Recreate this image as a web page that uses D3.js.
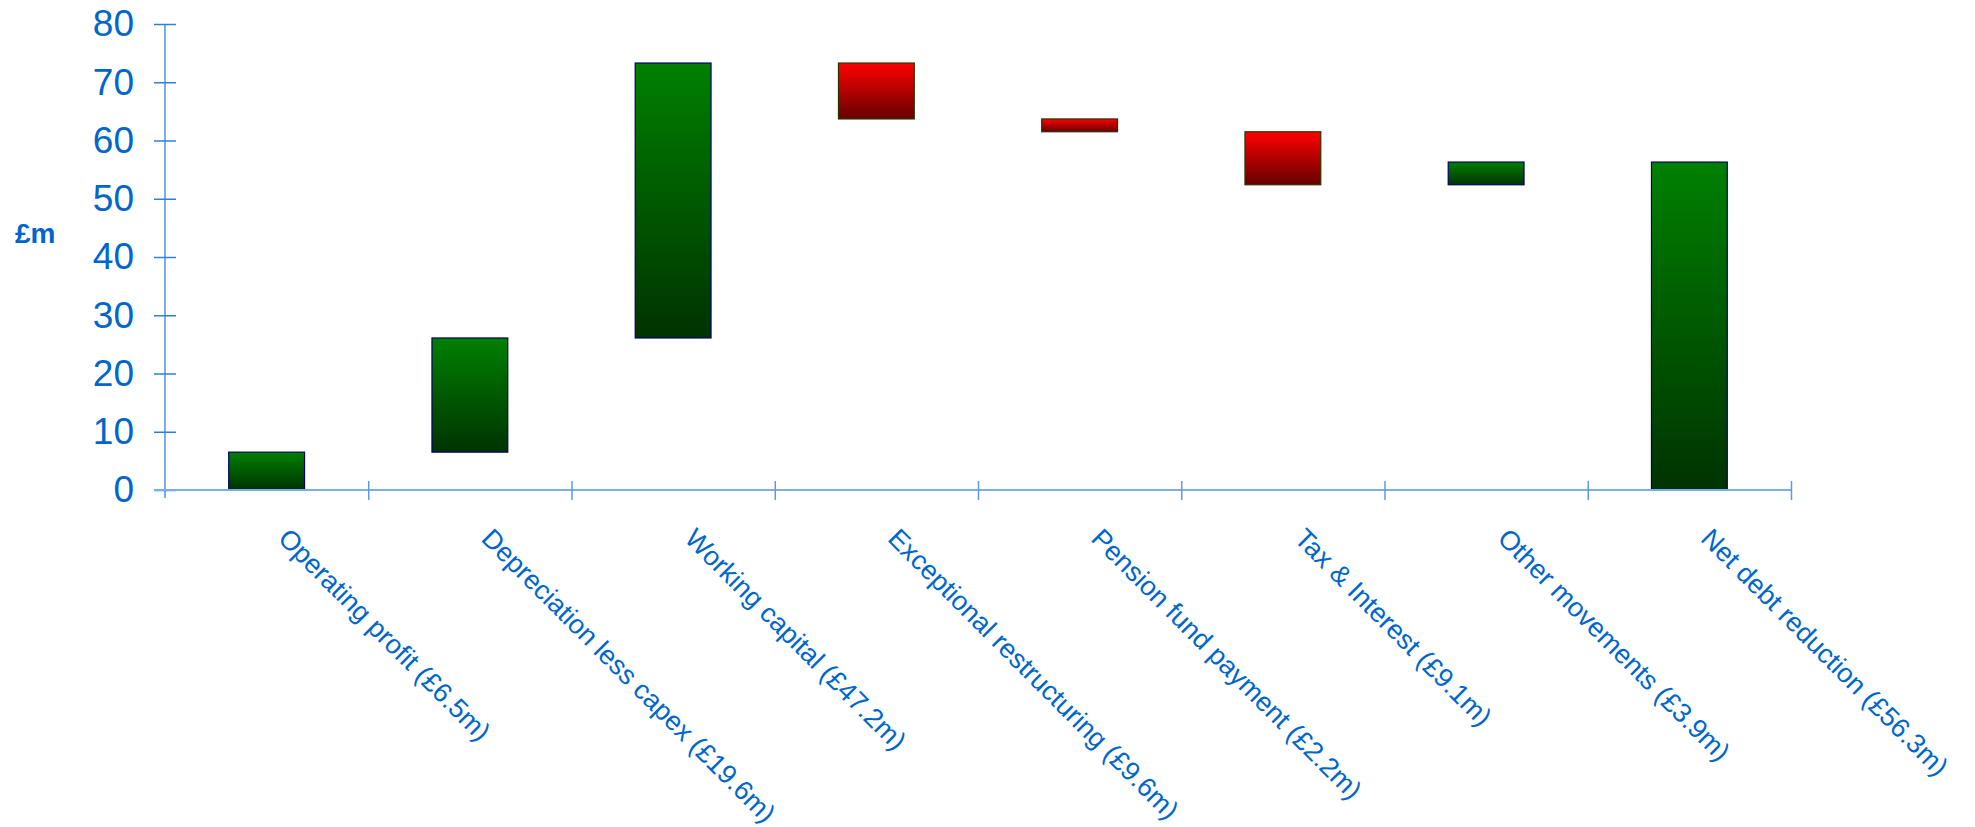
<!DOCTYPE html>
<html>
<head>
<meta charset="utf-8">
<script src="https://cdn.jsdelivr.net/npm/d3@7"></script>
<style>
  body { margin: 0; background: #fff; }
  svg text { font-family: "Liberation Sans", Arial, sans-serif; fill: #0066cc; }
</style>
</head>
<body>
<svg id="chart"></svg>
<script>
// ── data ──────────────────────────────────────────
const categories = [
  'Operating profit (£6.5m)',
  'Depreciation less capex (£19.6m)',
  'Working capital (£47.2m)',
  'Exceptional restructuring (£9.6m)',
  'Pension fund payment (£2.2m)',
  'Tax & Interest (£9.1m)',
  'Other movements (£3.9m)',
  'Net debt reduction (£56.3m)'
];
const changes = [6.5, 19.6, 47.2, -9.6, -2.2, -9.1, 3.9, 56.3];
const isTotal = [false, false, false, false, false, false, false, true];
const yTicks = [0, 10, 20, 30, 40, 50, 60, 70, 80];

const W = 1975, H = 827;
const mLeft = 165, mRight = 1791, mTop = 24, mBottom = 490;

const svg = d3.select('#chart').attr('width', W).attr('height', H);

// running totals -> floating bars
let run = 0;
const bars = categories.map((c, i) => {
  let y0, y1;
  if (isTotal[i]) { y0 = 0; y1 = changes[i]; run = changes[i]; }
  else { y0 = run; y1 = run + changes[i]; run = y1; }
  return { cat: c, y0, y1, up: changes[i] >= 0 };
});

const x = d3.scaleBand().domain(categories).range([mLeft, mRight]).padding(0);
const y = d3.scaleLinear().domain([0, 80]).range([mBottom, mTop]);
const barW = x.bandwidth() * 0.373;

const defs = svg.append('defs');
const gGreen = defs.append('linearGradient').attr('id', 'gGreen')
  .attr('x1', 0).attr('y1', 0).attr('x2', 0).attr('y2', 1);
gGreen.append('stop').attr('offset', '0%').attr('stop-color', '#008000');
gGreen.append('stop').attr('offset', '100%').attr('stop-color', '#003300');
const gRed = defs.append('linearGradient').attr('id', 'gRed')
  .attr('x1', 0).attr('y1', 0).attr('x2', 0).attr('y2', 1);
gRed.append('stop').attr('offset', '0%').attr('stop-color', '#ff0000');
gRed.append('stop').attr('offset', '100%').attr('stop-color', '#660000');

// bars
svg.append('g').selectAll('rect').data(bars).join('rect')
  .attr('x', d => x(d.cat) + (x.bandwidth() - barW) / 2)
  .attr('y', d => y(Math.max(d.y0, d.y1)))
  .attr('width', barW)
  .attr('height', d => Math.abs(y(d.y0) - y(d.y1)))
  .attr('fill', d => d.up ? 'url(#gGreen)' : 'url(#gRed)')
  .attr('stroke', d => d.up ? '#000066' : '#2b3300')
  .attr('stroke-width', 1.2);

// y axis
const yAxis = svg.append('g').attr('transform', `translate(${mLeft},0)`)
  .call(d3.axisLeft(y).tickValues(yTicks).tickSize(11).tickPadding(20));
yAxis.select('.domain').attr('stroke', '#7aaee6').attr('stroke-width', 2)
  .attr('d', `M0,${mTop}V${mBottom + 8}`);
yAxis.selectAll('.tick line').attr('x1', -11).attr('x2', 11)
  .attr('stroke', '#2f7fd8').attr('stroke-width', 1.5);
yAxis.selectAll('.tick text').style('font-size', '37px').attr('fill', '#0066cc');

// x axis: ticks on category boundaries
const xb = d3.scaleLinear().domain([0, categories.length]).range([mLeft, mRight]);
const xAxis = svg.append('g').attr('transform', `translate(0,${mBottom})`)
  .call(d3.axisBottom(xb).ticks(categories.length).tickSize(10).tickFormat(''));
xAxis.select('.domain').attr('stroke', '#7aaee6').attr('stroke-width', 2)
  .attr('d', `M${mLeft - 11},0H${mRight}`);
xAxis.selectAll('.tick line').attr('y1', -9).attr('y2', 10)
  .attr('stroke', '#5c9ae0').attr('stroke-width', 1.5);
xAxis.selectAll('.tick').filter(d => d === 0).remove();

// rotated category labels
svg.append('g').selectAll('text').data(categories).join('text')
  .attr('transform', d => `translate(${x(d) + x.bandwidth() / 2 + 10},540) rotate(45)`)
  .style('font-size', '27px')
  .text(d => d);

// y axis title
svg.append('text').attr('x', 15).attr('y', 243)
  .style('font-size', '28px').style('font-weight', 'bold')
  .text('£m');
</script>
</body>
</html>
